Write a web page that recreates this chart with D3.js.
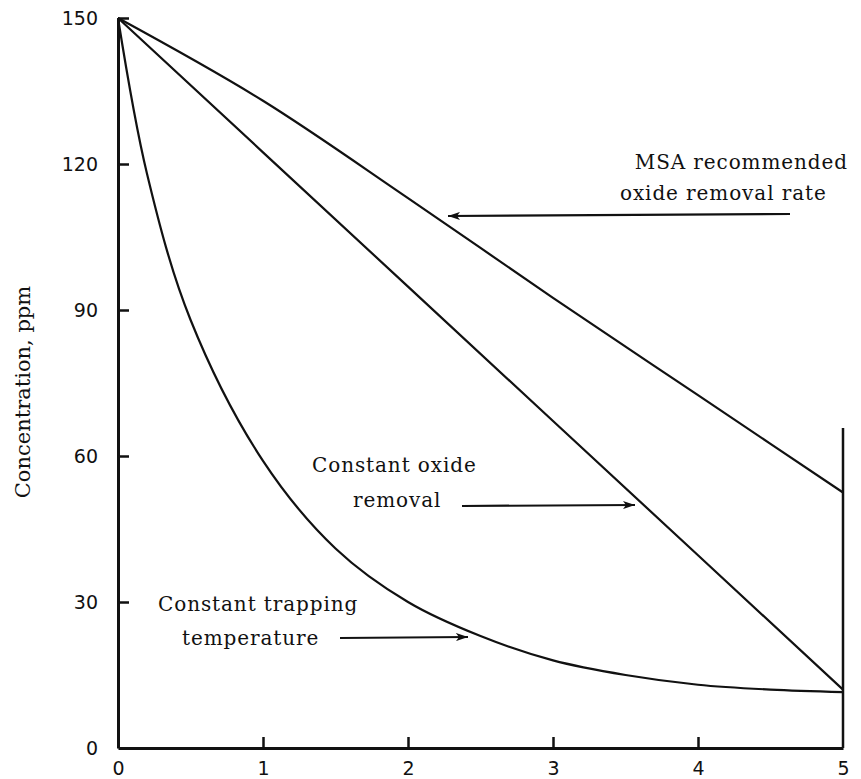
<!DOCTYPE html>
<html>
<head>
<meta charset="utf-8">
<script src="https://cdn.jsdelivr.net/npm/d3@7"></script>
<style>
  body { margin: 0; background: #fff; }
  svg text { fill: #111; }
</style>
</head>
<body>
<svg id="chart" width="861" height="779"></svg>
<script>
// values (x = time, y = concentration in ppm)
var msaX = [0, 1, 2, 3, 4, 5];
var msaY = [150, 133, 113, 92.5, 72.5, 52.5];

var oxideX = [0, 1, 2, 3, 4, 5];
var oxideY = [150, 122.4, 94.8, 67.2, 39.6, 12];

var trapX = [0, 0.2, 0.5, 1, 1.5, 2, 2.5, 3, 3.5, 4, 4.5, 5];
var trapY = [150, 118, 88, 59, 41, 30, 23, 18, 15, 13, 12, 11.5];

var xTicks = [0, 1, 2, 3, 4, 5];
var yTicks = [0, 30, 60, 90, 120, 150];
var yTitle = "Concentration, ppm";

var svg = d3.select("#chart");

var x = d3.scaleLinear().domain([0, 5]).range([118, 843]);
var y = d3.scaleLinear().domain([0, 150]).range([748, 18]);

//axes
var yAxis = d3.axisLeft(y).tickValues(yTicks).tickSizeInner(-11).tickSizeOuter(0).tickPadding(20)
  .tickFormat(d3.format("d"));
var xAxis = d3.axisBottom(x).tickValues(xTicks).tickSizeInner(-11).tickSizeOuter(0).tickPadding(14)
  .tickFormat(d3.format("d"));

var gy = svg.append("g").attr("transform", "translate(" + x(0) + ",0)").call(yAxis);
var gx = svg.append("g").attr("transform", "translate(0," + y(0) + ")").call(xAxis);

[gy, gx].forEach(function(g){
  g.select(".domain").attr("stroke", "#111").attr("stroke-width", 3);
  g.selectAll(".tick line").attr("stroke", "#111").attr("stroke-width", 2.5);
  g.selectAll(".tick text").attr("font-family", "DejaVu Sans").attr("font-size", 19).attr("fill", "#111");
});
// no tick marks at the origin
gy.selectAll(".tick").filter(function(d){ return d === 0; }).select("line").remove();
gx.selectAll(".tick").filter(function(d){ return d === 0 || d === 5; }).select("line").remove();

// right-hand vertical line at x = 5
svg.append("line")
  .attr("x1", x(5)).attr("x2", x(5))
  .attr("y1", y(0)).attr("y2", y(0) - 320)
  .attr("stroke", "#111").attr("stroke-width", 2.5);

svg.append("text")
  .attr("transform", "translate(30," + 392 + ") rotate(-90)")
  .attr("text-anchor", "middle")
  .attr("font-family", "DejaVu Serif")
  .attr("font-size", 21)
  .text(yTitle);

//curves
function draw(xs, ys, curve) {
  var pts = xs.map(function(d, i){ return [d, ys[i]]; });
  var line = d3.line()
    .x(function(d){ return x(d[0]); })
    .y(function(d){ return y(d[1]); })
    .curve(curve);
  svg.append("path")
    .attr("d", line(pts))
    .attr("fill", "none")
    .attr("stroke", "#111")
    .attr("stroke-width", 2.2);
}
draw(msaX, msaY, d3.curveMonotoneX);
draw(oxideX, oxideY, d3.curveLinear);
draw(trapX, trapY, d3.curveCatmullRom.alpha(0.5));

//labels + arrows
svg.append("defs").append("marker")
  .attr("id", "head")
  .attr("viewBox", "0 0 12 8")
  .attr("refX", 12).attr("refY", 4)
  .attr("markerWidth", 12).attr("markerHeight", 8)
  .attr("markerUnits", "userSpaceOnUse")
  .attr("orient", "auto")
  .append("path").attr("d", "M0,0 L12,4 L0,8 L3,4 Z").attr("fill", "#111");

function arrow(x1, y1, x2, y2) {
  svg.append("line")
    .attr("x1", x1).attr("y1", y1).attr("x2", x2).attr("y2", y2)
    .attr("stroke", "#111").attr("stroke-width", 2.2)
    .attr("marker-end", "url(#head)");
}
function label(tx, ty, s, anchor) {
  svg.append("text").attr("x", tx).attr("y", ty)
    .attr("font-family", "DejaVu Serif").attr("font-size", 20)
    .attr("letter-spacing", 0.9)
    .attr("text-anchor", anchor || "start")
    .text(s);
}

label(848, 169, "MSA recommended", "end");
label(620, 200, "oxide removal rate");
arrow(790, 214, 448, 216);

label(312, 472, "Constant oxide");
label(353, 507, "removal");
arrow(462, 506, 635, 505);

label(158, 611, "Constant trapping");
label(182, 645, "temperature");
arrow(340, 638, 468, 637);
</script>
</body>
</html>
